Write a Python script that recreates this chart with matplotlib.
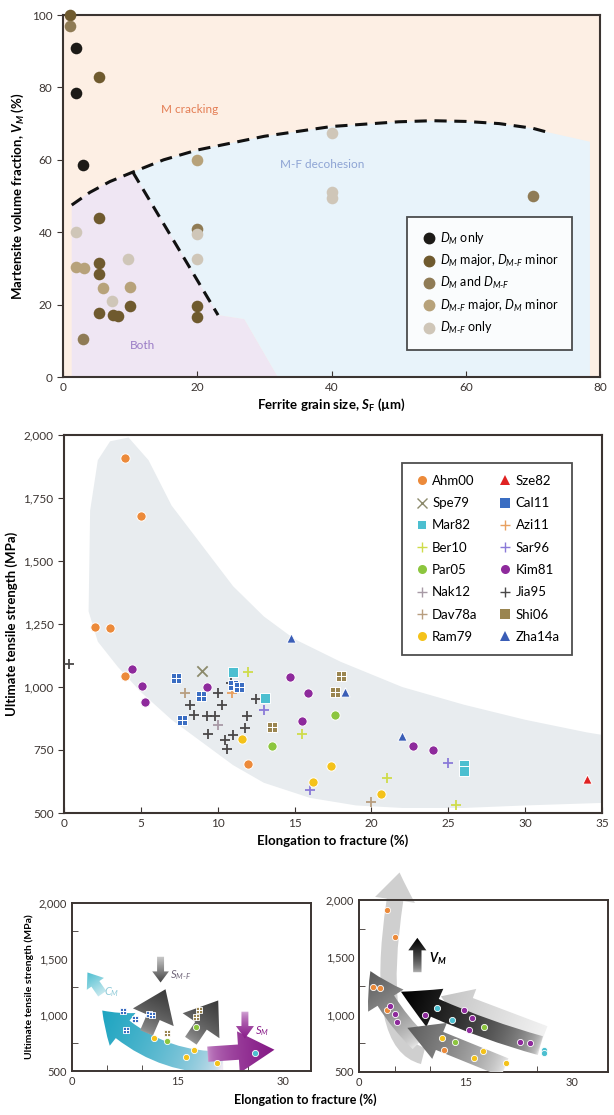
import numpy as np
import matplotlib
matplotlib.use('Agg')
import matplotlib.pyplot as plt
import matplotlib.patches as mpatches
from matplotlib.path import Path
from matplotlib.lines import Line2D
from matplotlib.colors import LinearSegmentedColormap
from matplotlib.ticker import StrMethodFormatter, MultipleLocator, FixedLocator

plt.rcParams['font.family'] = ['Lato', 'DejaVu Sans']
plt.rcParams['mathtext.fontset'] = 'custom'
plt.rcParams['mathtext.rm'] = 'Lato'
plt.rcParams['mathtext.it'] = 'Lato:italic'
plt.rcParams['mathtext.bf'] = 'Lato:bold'
plt.rcParams['mathtext.bfit'] = 'Lato:italic:bold'

# ---- top panel data: ferrite grain size (um) vs martensite fraction (%)
dm_only_sf = [2, 2, 3]
dm_only_vm = [91, 78.5, 58.5]
dm_major_sf = [1, 5.4, 5.4, 5.4, 5.4, 5.4, 7.5, 8.2, 10, 20, 20]
dm_major_vm = [100, 83, 44, 31.5, 28.5, 17.7, 17.2, 16.8, 19.5, 19.7, 16.5]
dm_and_sf = [1, 3, 20, 70]
dm_and_vm = [97, 10.5, 41, 50]
dmf_major_sf = [2, 3.2, 6, 10, 20]
dmf_major_vm = [30.5, 30, 24.5, 25, 60]
dmf_only_sf = [2, 7.3, 9.7, 20, 20, 40, 40, 40]
dmf_only_vm = [40, 21, 32.5, 32.5, 39.5, 67.5, 51, 49.5]

# dashed boundaries
bound_sf = [1.3, 4, 7, 10.4, 15, 20, 30, 40, 50, 55, 60, 65, 70, 72]
bound_vm = [47.5, 51, 54, 56.6, 60, 62.7, 66.5, 69.2, 70.5, 70.8, 70.6, 70.0, 68.7, 67.7]
bound2_sf = [10.4, 23.1]
bound2_vm = [56.6, 17.1]

# ---- middle panel data: elongation (%) vs UTS (MPa)
ahm00_el = [4, 5, 2, 3, 4, 12]
ahm00_uts = [1910, 1680, 1240, 1235, 1045, 695]
spe79_el = [9]
spe79_uts = [1065]
mar82_el = [11, 13.1, 26, 26]
mar82_uts = [1060, 955, 690, 665]
ber10_el = [12, 15.5, 21, 25.5]
ber10_uts = [1060, 815, 640, 530]
par05_el = [13.5, 17.6]
par05_uts = [765, 890]
nak12_el = [10]
nak12_uts = [850]
dav78a_el = [7.9, 20]
dav78a_uts = [975, 545]
ram79_el = [11.6, 17.4, 16.2, 20.6]
ram79_uts = [795, 685, 625, 575]
sze82_el = [34]
sze82_uts = [635]
cal11_el = [7.3, 7.7, 8.9, 11.0, 11.4]
cal11_uts = [1035, 870, 965, 1008, 1000]
azi11_el = [10.9]
azi11_uts = [978]
sar96_el = [13, 16, 25]
sar96_uts = [910, 590, 700]
kim81_el = [4.4, 5.1, 5.3, 9.3, 14.7, 15.9, 15.5, 22.7, 24]
kim81_uts = [1073, 1005, 940, 1000, 1040, 975, 865, 765, 750]
jia95_el = [0.35, 10.85, 10.0, 8.2, 10.3, 12.5, 8.45, 9.3, 9.8, 11.9, 11.8, 9.4, 11.0, 10.5, 10.6]
jia95_uts = [1090, 1014, 975, 927, 927, 951, 888, 885, 883, 883, 839, 815, 809, 789, 755]
shi06_el = [18, 17.6, 13.5]
shi06_uts = [1045, 980, 840]
zha14a_el = [18.3, 22, 14.8]
zha14a_uts = [980, 805, 1195]

# grey envelope behind the middle data
band_el = [1.6, 1.7, 2.2, 3, 4.2, 5.5, 7, 9, 11, 13, 15, 18, 22, 26, 30, 34, 35,
           35, 30, 26, 22, 19, 16, 13, 11, 9, 7, 5, 3.5, 2.2]
band_uts = [1300, 1700, 1900, 1975, 1990, 1900, 1720, 1560, 1400, 1280, 1190, 1100, 1000, 930, 870, 820, 810,
            540, 530, 520, 520, 530, 560, 620, 690, 780, 870, 980, 1080, 1180]


def grid_marker():
    verts, codes = [], []
    for cx in (-0.52, 0.52):
        for cy in (-0.52, 0.52):
            h = 0.42
            verts += [(cx - h, cy - h), (cx + h, cy - h), (cx + h, cy + h), (cx - h, cy + h), (cx - h, cy - h)]
            codes += [Path.MOVETO, Path.LINETO, Path.LINETO, Path.LINETO, Path.CLOSEPOLY]
    return Path(verts, codes)


GRID = grid_marker()

series = [
    ('Ahm00', ahm00_el, ahm00_uts, 'o', '#ec8a3a'),
    ('Spe79', spe79_el, spe79_uts, 'x', '#8c8a6c'),
    ('Mar82', mar82_el, mar82_uts, 's', '#4cbfd0'),
    ('Ber10', ber10_el, ber10_uts, '+', '#cfdc4a'),
    ('Par05', par05_el, par05_uts, 'o', '#8cc63e'),
    ('Nak12', nak12_el, nak12_uts, '+', '#a89aa6'),
    ('Dav78a', dav78a_el, dav78a_uts, '+', '#b89e80'),
    ('Ram79', ram79_el, ram79_uts, 'o', '#f4c21a'),
    ('Sze82', sze82_el, sze82_uts, '^', '#e02222'),
    ('Cal11', cal11_el, cal11_uts, GRID, '#3a6dc2'),
    ('Azi11', azi11_el, azi11_uts, '+', '#e8a060'),
    ('Sar96', sar96_el, sar96_uts, '+', '#8a7ad8'),
    ('Kim81', kim81_el, kim81_uts, 'o', '#8e2a9c'),
    ('Jia95', jia95_el, jia95_uts, '+', '#4a4848'),
    ('Shi06', shi06_el, shi06_uts, GRID, '#9a8550'),
    ('Zha14a', zha14a_el, zha14a_uts, '^', '#3a5db6'),
]

SPINE = '#3b3431'
W, H = 614, 1115
fig = plt.figure(figsize=(W / 100, H / 100), dpi=100)


def frame(ax, lw=1.5):
    for s in ax.spines.values():
        s.set_color(SPINE)
        s.set_linewidth(lw)


def gradient_arrow(ax, tail, tip, rad, hl, hw, tw, c_tail, c_tip, z=2, gamma=1.0):
    style = mpatches.ArrowStyle.Simple(head_length=hl, head_width=hw, tail_width=tw)
    arr = mpatches.FancyArrowPatch(tail, tip, arrowstyle=style, connectionstyle=f"arc3,rad={rad}",
                                   mutation_scale=1, shrinkA=0, shrinkB=0,
                                   facecolor='none', edgecolor='none', zorder=z)
    ax.add_patch(arr)
    x0, x1 = ax.get_xlim()
    y0, y1 = ax.get_ylim()
    bb = ax.get_position()
    pw, ph = bb.width * W, bb.height * H
    X, Y = np.meshgrid(np.linspace(x0, x1, 300), np.linspace(y0, y1, 300))
    ux = (X - x0) / (x1 - x0) * pw
    uy = (Y - y0) / (y1 - y0) * ph
    tx = (tail[0] - x0) / (x1 - x0) * pw
    ty = (tail[1] - y0) / (y1 - y0) * ph
    dx = (tip[0] - x0) / (x1 - x0) * pw - tx
    dy = (tip[1] - y0) / (y1 - y0) * ph - ty
    t = np.clip(((ux - tx) * dx + (uy - ty) * dy) / (dx * dx + dy * dy), 0, 1) ** gamma
    cmap = LinearSegmentedColormap.from_list('g', [c_tail, c_tip])
    im = ax.imshow(t, extent=(x0, x1, y0, y1), origin='lower', cmap=cmap, vmin=0, vmax=1,
                   aspect='auto', zorder=z, interpolation='bilinear')
    im.set_clip_path(arr)
    ax.set_xlim(x0, x1)
    ax.set_ylim(y0, y1)


# ================= top panel =================
ax1 = fig.add_axes([63 / W, 1 - 377 / H, 537 / W, 362 / H])
ax1.set_xlim(0, 80)
ax1.set_ylim(0, 100)
ax1.set_facecolor('#fdefe4')

both_x = [1.3] + [x for x in bound_sf if x <= 10.4] + [23.1, 27, 32, 1.3]
both_y = [0] + [y for x, y in zip(bound_sf, bound_vm) if x <= 10.4] + [17.1, 16, 0, 0]
ax1.fill(both_x, both_y, color='#efe6f3', lw=0, zorder=0)
blue_x = [x for x in bound_sf if x >= 10.4] + [78.5, 78.5, 32, 27, 23.1]
blue_y = [y for x, y in zip(bound_sf, bound_vm) if x >= 10.4] + [65, 0, 0, 16, 17.1]
ax1.fill(blue_x, blue_y, color='#e8f3fa', lw=0, zorder=0)

ax1.plot(bound_sf, bound_vm, ls=(0, (4, 2.5)), color='#111111', lw=2.2, zorder=2)
ax1.plot(bound2_sf, bound2_vm, ls=(0, (4, 2.5)), color='#111111', lw=2.2, zorder=2)

ax1.text(18.9, 73.8, 'M cracking', color='#e47e55', fontsize=8.5, ha='center', va='center')
ax1.text(38.6, 58.6, 'M-F decohesion', color='#8ea4d4', fontsize=8.5, ha='center', va='center')
ax1.text(11.9, 8.8, 'Both', color='#9a7cc6', fontsize=8.5, ha='center', va='center')

top_sets = [
    (dm_only_sf, dm_only_vm, '#1c1a17', r'$D_M$ only'),
    (dm_major_sf, dm_major_vm, '#6f5a2e', r'$D_M$ major, $D_{M\text{-}F}$ minor'),
    (dm_and_sf, dm_and_vm, '#8f7b55', r'$D_M$ and $D_{M\text{-}F}$'),
    (dmf_major_sf, dmf_major_vm, '#b7a27a', r'$D_{M\text{-}F}$ major, $D_M$ minor'),
    (dmf_only_sf, dmf_only_vm, '#cfc6b8', r'$D_{M\text{-}F}$ only'),
]
handles = []
for sx, sy, c, lab in top_sets:
    ax1.scatter(sx, sy, s=70, color=c, lw=0, zorder=3, clip_on=False)
    handles.append(Line2D([], [], marker='o', ls='none', color=c, markersize=7.5, label=lab))
leg = ax1.legend(handles=handles, loc='lower right', bbox_to_anchor=(0.948, 0.075), borderaxespad=0,
                 fontsize=9, frameon=True, fancybox=False, edgecolor='#222222', handletextpad=0.2,
                 labelspacing=0.5, borderpad=1.1, handlelength=1.3)
leg.get_frame().set_linewidth(1.3)

ax1.set_xticks([0, 20, 40, 60, 80])
ax1.set_yticks([0, 20, 40, 60, 80, 100])
ax1.tick_params(axis='y', direction='out', length=4, labelsize=8.5, colors=SPINE)
ax1.tick_params(axis='x', direction='in', length=4, labelsize=8.5, colors=SPINE)
ax1.set_xlabel(r'Ferrite grain size, $\mathbfit{S}_{\mathbf{F}}$ (µm)', fontsize=9.5, fontweight='bold', labelpad=3)
ax1.set_ylabel(r'Martensite volume fraction, $\mathbfit{V}_{\mathbfit{M}}$ (%)', fontsize=9.5,
               fontweight='bold', labelpad=4)
frame(ax1)

# ================= middle panel =================
ax2 = fig.add_axes([64 / W, 1 - 813 / H, 538 / W, 378 / H])
ax2.set_xlim(0, 35)
ax2.set_ylim(500, 2000)
ax2.fill(band_el, band_uts, color='#e8ecef', lw=0, zorder=0)

leg_handles = []
for name, ex, uy, mk, c in series:
    if mk in ('+', 'x'):
        ax2.scatter(ex, uy, marker=mk, s=55, color=c, lw=1.3, zorder=3)
        h = Line2D([], [], marker=mk, ls='none', color=c, markersize=6.5, markeredgewidth=1.0, label=name)
    else:
        ax2.scatter(ex, uy, marker=mk, s=45, color=c, edgecolor='white', lw=0.7, zorder=4, clip_on=False)
        ms = 5.5 if mk == 's' else 6.5
        h = Line2D([], [], marker=mk, ls='none', color=c, markersize=ms, markeredgewidth=0, label=name)
    leg_handles.append(h)
leg2 = ax2.legend(handles=leg_handles, ncol=2, loc='upper right', bbox_to_anchor=(0.944, 0.926),
                  borderaxespad=0, fontsize=9.5, frameon=True, fancybox=False, edgecolor='#222222',
                  handletextpad=0.2, labelspacing=0.78, columnspacing=1.5, borderpad=0.9, handlelength=1.2)
leg2.get_frame().set_linewidth(1.3)

ax2.set_xticks(range(0, 36, 5))
ax2.set_yticks([500, 750, 1000, 1250, 1500, 1750, 2000])
ax2.yaxis.set_major_formatter(StrMethodFormatter('{x:,.0f}'))
ax2.tick_params(axis='y', direction='out', length=4, labelsize=8.5, colors=SPINE)
ax2.tick_params(axis='x', direction='in', length=4, labelsize=8.5, colors=SPINE)
ax2.set_xlabel('Elongation to fracture (%)', fontsize=9.5, fontweight='bold', labelpad=4)
ax2.set_ylabel('Ultimate tensile strength (MPa)', fontsize=9.5, fontweight='bold', labelpad=4)
frame(ax2)


def small_axes(ax, xmax):
    ax.set_xlim(0, xmax)
    ax.set_ylim(500, 2000)
    ax.xaxis.set_major_locator(FixedLocator([0, 15, 30]))
    ax.xaxis.set_minor_locator(FixedLocator([5, 10, 20, 25]))
    ax.yaxis.set_major_locator(MultipleLocator(500))
    ax.yaxis.set_minor_locator(FixedLocator([750, 1250, 1750]))
    ax.yaxis.set_major_formatter(StrMethodFormatter('{x:,.0f}'))
    ax.tick_params(which='both', direction='in', length=4, labelsize=8, colors=SPINE)
    ax.tick_params(which='major', length=0)
    frame(ax, 1.4)


def small_points(ax, names, keep=None):
    for name, ex, uy, mk, c in series:
        if name not in names:
            continue
        idx = keep.get(name, range(len(ex))) if keep else range(len(ex))
        xs = [ex[i] for i in idx]
        ys = [uy[i] for i in idx]
        m = GRID if mk is GRID else 'o'
        ax.scatter(xs, ys, marker=m, s=20, color=c, edgecolor='white', lw=0.6, zorder=6)


# ================= bottom left =================
ax3 = fig.add_axes([72 / W, 1 - 1071 / H, 239 / W, 168 / H])
small_axes(ax3, 34)
gradient_arrow(ax3, (21.5, 575), (4.3, 1040), -0.22, 20, 30, 16, '#efeaf4', '#1ea5c1', gamma=0.5)
gradient_arrow(ax3, (4.3, 1190), (2.2, 1380), 0, 10, 15, 7, '#c6e8ee', '#4fbfd1')
gradient_arrow(ax3, (10.6, 840), (13.3, 1230), 0, 22, 32, 10, '#9a9a9a', '#3a3a3a', gamma=0.6)
gradient_arrow(ax3, (16.9, 770), (20.8, 1130), 0, 22, 32, 10, '#9a9a9a', '#3a3a3a', gamma=0.6)
gradient_arrow(ax3, (12.6, 1520), (12.6, 1290), 0, 8, 12, 5, '#c8c8c8', '#444444')
gradient_arrow(ax3, (19.3, 650), (28.8, 690), 0, 26, 30, 11, '#d6a8d8', '#851a86', gamma=0.35)
gradient_arrow(ax3, (24.6, 1030), (24.6, 790), 0, 9, 13, 5, '#d9b3dc', '#8a1c8a', gamma=0.6)
ax3.text(4.6, 1200, r'$C_M$', color='#8fcad8', fontsize=8, va='center')
ax3.text(14.0, 1360, r'$S_{M\text{-}F}$', color='#6e6478', fontsize=8, va='center')
ax3.text(26.0, 860, r'$S_M$', color='#8a1c8a', fontsize=8, va='center')
small_points(ax3, ['Cal11', 'Shi06', 'Par05', 'Ram79', 'Mar82'], keep={'Mar82': [3]})
ax3.set_ylabel('Ultimate tensile strength (MPa)', fontsize=7.5, fontweight='bold', labelpad=3)

# ================= bottom right =================
ax4 = fig.add_axes([359 / W, 1 - 1072 / H, 249 / W, 172 / H])
small_axes(ax4, 35)
vm_path = Path([(9.0, 640), (1.4, 760), (5.7, 2240)], [Path.MOVETO, Path.CURVE3, Path.CURVE3])
ax4.add_patch(mpatches.FancyArrowPatch(path=vm_path, mutation_scale=1,
                                       arrowstyle=mpatches.ArrowStyle.Simple(head_length=20, head_width=29,
                                                                             tail_width=12),
                                       facecolor='#cfcfcf', edgecolor='none', zorder=1, clip_on=False))
gradient_arrow(ax4, (8.5, 760), (1.6, 1380), -0.1, 24, 30, 14, '#e4e4e4', '#5a5a5a', gamma=0.7)
gradient_arrow(ax4, (26, 820), (11.5, 1160), 0, 22, 28, 14, '#f2f2f2', '#c4c4c4')
gradient_arrow(ax4, (25.5, 730), (5.9, 1200), -0.05, 27, 30, 14, '#e0e0e0', '#000000', z=3, gamma=0.45)
gradient_arrow(ax4, (20.5, 540), (6.8, 885), 0, 25, 28, 14, '#ebebeb', '#5e5e5e', z=3, gamma=0.6)
gradient_arrow(ax4, (8.2, 1370), (8.2, 1670), 0, 9, 13, 6, '#bdbdbd', '#000000', gamma=0.6)
ax4.text(9.9, 1490, r'$\mathbfit{V}_{\mathbfit{M}}$', fontsize=9, va='center')
small_points(ax4, ['Ahm00', 'Kim81', 'Mar82', 'Par05', 'Ram79'])

fig.text(305 / W, 1 - 1100 / H, 'Elongation to fracture (%)', fontsize=9, fontweight='bold',
         ha='center', va='center')

fig.savefig('out.png', dpi=100)
